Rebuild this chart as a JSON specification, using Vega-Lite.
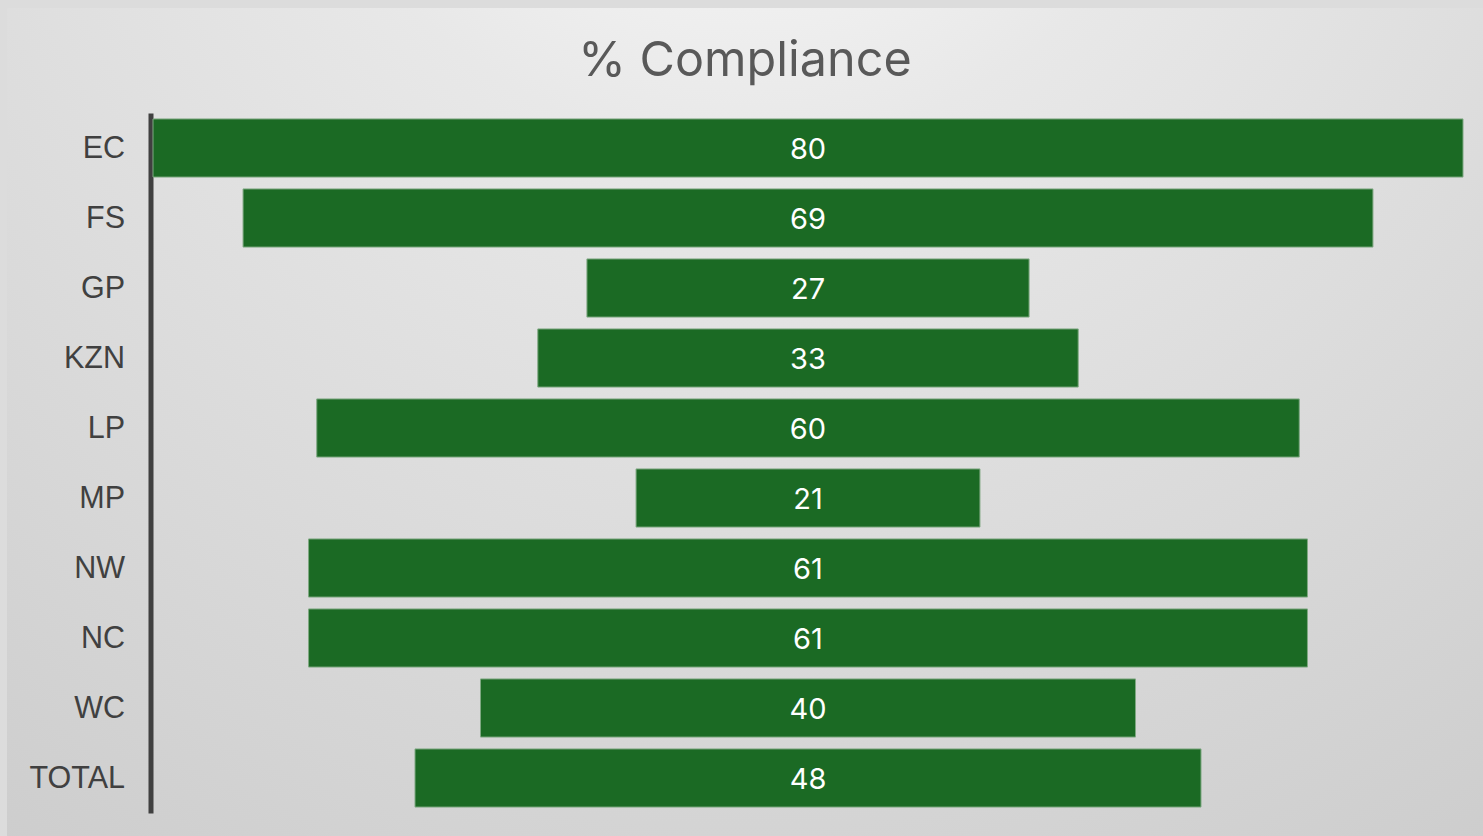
{
  "$schema": "https://vega.github.io/schema/vega-lite/v6.json",
  "width": 1476,
  "height": 828,
  "autosize": {"type": "none"},
  "padding": {"left": 7, "top": 8, "right": 0, "bottom": 0},
  "background": "#dcdcdc",
  "title": {
    "text": "% Compliance",
    "font": "Inter",
    "fontSize": 48.5,
    "fontWeight": "normal",
    "color": "#595959",
    "anchor": "middle",
    "baseline": "alphabetic",
    "offset": -116
  },
  "config": {
    "view": {
      "stroke": null,
      "fill": {
        "gradient": "radial",
        "x1": 0.5, "y1": 0, "r1": 0,
        "x2": 0.5, "y2": 0, "r2": 1.05,
        "stops": [
          {"offset": 0, "color": "#ffffff"},
          {"offset": 0.3, "color": "#e8e8e8"},
          {"offset": 1, "color": "#c8c8c8"}
        ]
      }
    }
  },
  "data": {
    "values": [
      {"province": "EC", "value": 80},
      {"province": "FS", "value": 69},
      {"province": "GP", "value": 27},
      {"province": "KZN", "value": 33},
      {"province": "LP", "value": 60},
      {"province": "MP", "value": 21},
      {"province": "NW", "value": 61},
      {"province": "NC", "value": 61},
      {"province": "WC", "value": 40},
      {"province": "TOTAL", "value": 48}
    ]
  },
  "encoding": {
    "y": {
      "field": "province",
      "type": "nominal",
      "sort": null,
      "scale": {"range": [105, 805], "paddingInner": 0.17, "paddingOuter": 0.085},
      "axis": {
        "title": null,
        "orient": "left",
        "offset": -143.5,
        "domainColor": "#404040",
        "domainWidth": 5,
        "ticks": false,
        "labelPadding": 26,
        "labelOffset": 1,
        "labelFont": "Liberation Sans",
        "labelFontSize": 30.5,
        "labelColor": "#404040",
        "grid": false
      }
    }
  },
  "layer": [
    {
      "mark": {"type": "bar", "color": "#1b6a24", "stroke": "#7fa882", "strokeWidth": 1},
      "encoding": {
        "x": {
          "field": "value",
          "type": "quantitative",
          "stack": "center",
          "scale": {"domain": [0, 80], "range": [146, 1456], "nice": false, "zero": false},
          "axis": null
        }
      }
    },
    {
      "mark": {"type": "text", "color": "#ffffff", "font": "Inter", "fontSize": 29, "align": "center", "baseline": "middle", "dy": 2},
      "encoding": {
        "x": {"datum": 40, "type": "quantitative"},
        "text": {"field": "value", "type": "quantitative"}
      }
    }
  ]
}
